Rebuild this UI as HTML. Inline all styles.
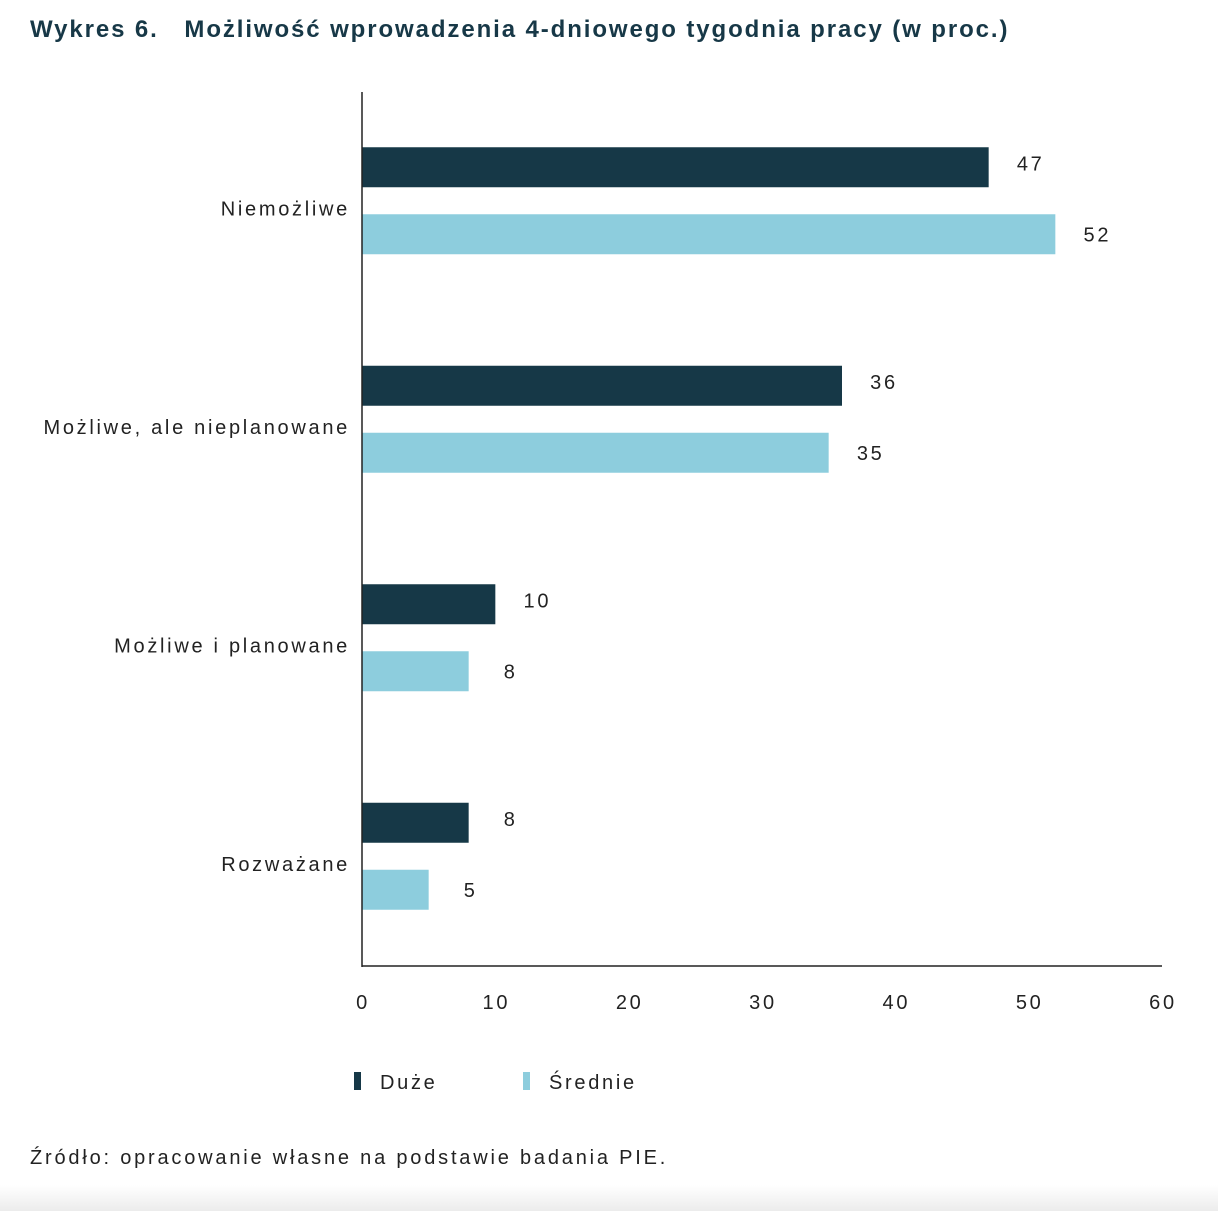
<!DOCTYPE html>
<html><head><meta charset="utf-8"><style>
body{margin:0;width:1218px;height:1211px;background:#fff;overflow:hidden;font-family:"Liberation Sans",sans-serif;position:relative}
#title{position:absolute;left:30px;top:16px;font-size:24px;font-weight:bold;color:#173847;white-space:nowrap;letter-spacing:1.9px}
#src{position:absolute;left:30px;top:1147px;font-size:20px;color:#222;letter-spacing:2.8px;white-space:nowrap}
#foot{position:absolute;left:0;top:1185px;width:1218px;height:26px;background:linear-gradient(#fff,#ececec)}
svg text{letter-spacing:2.7px}
</style></head><body>
<div id="title">Wykres 6.&nbsp;&nbsp; Możliwość wprowadzenia 4-dniowego tygodnia pracy (w proc.)</div>
<svg id="chart" width="1218" height="1211" style="position:absolute;left:0;top:0" font-family="Liberation Sans, sans-serif"></svg>
<div id="src">Źródło: opracowanie własne na podstawie badania PIE.</div>
<div id="foot"></div>
<script>
const categories=["Niemożliwe","Możliwe, ale nieplanowane","Możliwe i planowane","Rozważane"];
const duze=[47,36,10,8];
const srednie=[52,35,8,5];
const ticks=[0,10,20,30,40,50,60];
const seriesNames=["Duże","Średnie"];
const colors=["#163847","#8dcddd"];
const ns="http://www.w3.org/2000/svg";
const svg=document.getElementById('chart');
const x0=362,x1=1162,yTop=92,yBot=966,xMax=60;
const xs=v=>x0+(v/xMax)*(x1-x0);
const band=(yBot-yTop)/categories.length;
function mk(t,a){const e=document.createElementNS(ns,t);for(const k in a)e.setAttribute(k,a[k]);svg.appendChild(e);return e;}
categories.forEach((c,i)=>{
  const cy=yTop+band*i+band/2;
  const l=mk('text',{x:350,y:cy+14,'text-anchor':'end','font-size':20,fill:'#222'});
  
  
  l.textContent=c;
  [duze,srednie].forEach((arr,s)=>{
    const by=s===0?cy-54:cy+13;
    const r=mk('rect',{x:x0,y:by,width:xs(arr[i])-x0,height:40,fill:colors[s]});
    
    
    const t=mk('text',{x:xs(arr[i])+42,y:by+(s===0?23:27),'text-anchor':'middle','font-size':20,fill:'#222'});
    
    
    t.textContent=arr[i];
  });
});
const ya=mk('line',{x1:x0,y1:yTop,x2:x0,y2:yBot+1,stroke:'#222','stroke-width':1.5});


const xa=mk('line',{x1:x0,y1:yBot,x2:x1,y2:yBot,stroke:'#222','stroke-width':1.5});


ticks.forEach(v=>{
  const t=mk('text',{x:xs(v)+1,y:1009,'text-anchor':'middle','font-size':20,fill:'#222'});
  
  
  t.textContent=v;
});
const legX=[354,523];
seriesNames.forEach((n,i)=>{
  const r=mk('rect',{x:legX[i],y:1072,width:7,height:18,fill:colors[i]});
  
  
  const t=mk('text',{x:legX[i]+26,y:1089,'font-size':20,fill:'#222'});
  
  
  t.textContent=n;
});
</script>
</body></html>
